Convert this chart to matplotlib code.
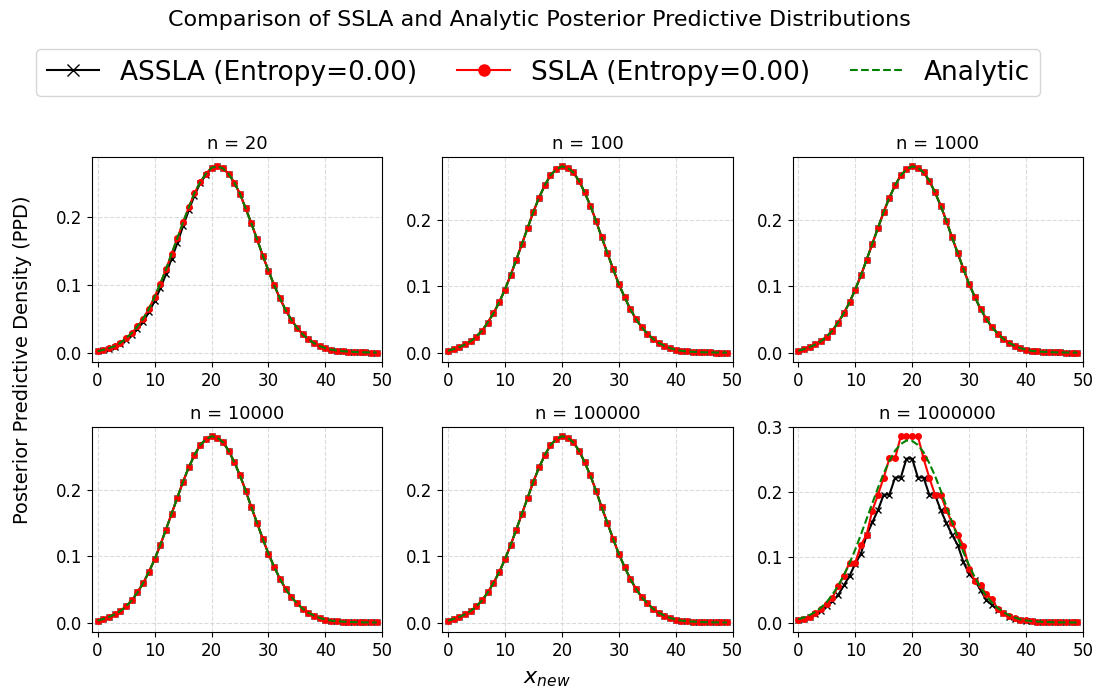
import matplotlib
matplotlib.use("Agg")
import matplotlib.pyplot as plt
import numpy as np

# x grid and sample sizes
x_new = np.arange(50)
n_values = [20, 100, 1000, 10000, 100000, 1000000]

# n = 20 (SSLA and Analytic overlap, ASSLA slightly lower on the rising side)
ppd_n20 = [0.0025, 0.0045, 0.007, 0.010, 0.015, 0.0215, 0.0295, 0.039, 0.0505, 0.065,
           0.0825, 0.102, 0.123, 0.1465, 0.169, 0.1925, 0.2145, 0.2355, 0.2515, 0.264,
           0.273, 0.275, 0.272, 0.264, 0.251, 0.2345, 0.213, 0.191, 0.1675, 0.1435,
           0.121, 0.0998, 0.0806, 0.0634, 0.049, 0.0373, 0.0275, 0.020, 0.0143, 0.010,
           0.007, 0.005, 0.0035, 0.0025, 0.002, 0.0015, 0.001, 0.0008, 0.0006, 0.0004]
assla_n20 = [0.0025, 0.004, 0.0065, 0.009, 0.013, 0.019, 0.026, 0.035, 0.046, 0.060,
             0.076, 0.095, 0.116, 0.139, 0.162, 0.187, 0.210, 0.232, 0.250, 0.263,
             0.273, 0.275, 0.272, 0.264, 0.251, 0.2345, 0.213, 0.191, 0.1675, 0.1435,
             0.121, 0.0998, 0.0806, 0.0634, 0.049, 0.0373, 0.0275, 0.020, 0.0143, 0.010,
             0.007, 0.005, 0.0035, 0.0025, 0.002, 0.0015, 0.001, 0.0008, 0.0006, 0.0004]

# n = 100 ... 100000 (all three methods overlap)
ppd_large = [0.003, 0.0055, 0.0085, 0.0125, 0.0175, 0.0245, 0.0335, 0.0455, 0.0595, 0.076,
             0.095, 0.1165, 0.14, 0.164, 0.188, 0.212, 0.2335, 0.252, 0.267, 0.276,
             0.2805, 0.2785, 0.2715, 0.259, 0.2415, 0.2215, 0.1985, 0.1735, 0.15, 0.126,
             0.1035, 0.084, 0.066, 0.051, 0.0385, 0.029, 0.021, 0.015, 0.0105, 0.007,
             0.0045, 0.003, 0.002, 0.0015, 0.001, 0.0007, 0.0005, 0.0004, 0.0003, 0.0002]

# n = 1000000
ssla_n1m = [0.0045, 0.006, 0.009, 0.014, 0.021, 0.029, 0.038, 0.056, 0.072, 0.092,
            0.092, 0.119, 0.135, 0.172, 0.1965, 0.2227, 0.252, 0.252, 0.2862, 0.2862,
            0.2862, 0.2862, 0.252, 0.2227, 0.1965, 0.1965, 0.173, 0.153, 0.135, 0.118,
            0.083, 0.064, 0.057, 0.044, 0.0365, 0.021, 0.0147, 0.0096, 0.0066, 0.0046,
            0.0035, 0.0025, 0.0015, 0.001, 0.0008, 0.0006, 0.0005, 0.0004, 0.0003, 0.0003]
assla_n1m = [0.004, 0.006, 0.0085, 0.013, 0.018, 0.025, 0.0325, 0.0426, 0.057, 0.072,
             0.090, 0.106, 0.134, 0.154, 0.173, 0.1965, 0.1965, 0.2227, 0.2227, 0.2518,
             0.2518, 0.2227, 0.2227, 0.1965, 0.1965, 0.173, 0.153, 0.135, 0.119, 0.093,
             0.0746, 0.065, 0.050, 0.035, 0.027, 0.020, 0.014, 0.009, 0.006, 0.004,
             0.003, 0.002, 0.0015, 0.001, 0.0008, 0.0006, 0.0005, 0.0004, 0.0003, 0.0003]
analytic_n1m = [0.005, 0.0079, 0.0117, 0.0165, 0.0231, 0.0317, 0.0431, 0.0567, 0.0727, 0.0912,
                0.1122, 0.1353, 0.1592, 0.1832, 0.2072, 0.2292, 0.2483, 0.264, 0.2742, 0.2796,
                0.2789, 0.2729, 0.2615, 0.245, 0.2255, 0.2031, 0.1785, 0.1547, 0.1308, 0.108,
                0.0879, 0.0696, 0.054, 0.041, 0.0309, 0.0226, 0.0162, 0.0114, 0.0077, 0.005,
                0.0033, 0.0022, 0.0016, 0.0011, 0.0008, 0.0005, 0.0004, 0.0003, 0.0002, 0.0002]

assla = [assla_n20, ppd_large, ppd_large, ppd_large, ppd_large, assla_n1m]
ssla = [ppd_n20, ppd_large, ppd_large, ppd_large, ppd_large, ssla_n1m]
analytic = [ppd_n20, ppd_large, ppd_large, ppd_large, ppd_large, analytic_n1m]

fig, axes = plt.subplots(2, 3, figsize=(10.94, 6.92), dpi=100)
fig.subplots_adjust(left=0.084, right=0.99, top=0.773, bottom=0.087, wspace=0.206, hspace=0.317)

for i, ax in enumerate(axes.flat):
    ax.plot(x_new, assla[i], color='black', marker='x', markersize=4, linewidth=1.5,
            label='ASSLA (Entropy=0.00)')
    ax.plot(x_new, ssla[i], color='red', marker='o', markersize=4, linewidth=1.5,
            label='SSLA (Entropy=0.00)')
    ax.plot(x_new, analytic[i], color='green', linestyle='--', linewidth=1.5,
            label='Analytic')
    ax.set_title(f'n = {n_values[i]}', fontsize=13)
    ax.set_xlim(-1, 50)
    ax.set_xticks([0, 10, 20, 30, 40, 50])
    ax.tick_params(labelsize=12)
    ax.grid(True, linestyle='--', color='lightgrey', alpha=0.8)

handles, labels = axes[0, 0].get_legend_handles_labels()
fig.legend(handles, labels, loc='center', bbox_to_anchor=(0.492, 0.895), ncol=3,
           fontsize=19, markerscale=2, columnspacing=1.5)

fig.suptitle('Comparison of SSLA and Analytic Posterior Predictive Distributions',
             fontsize=16, x=0.493, y=0.985)
fig.supylabel('Posterior Predictive Density (PPD)', fontsize=14, x=0.012, y=0.48)
fig.supxlabel('$x_{new}$', fontsize=16, y=0.005)

fig.savefig('out.png', dpi=100)
